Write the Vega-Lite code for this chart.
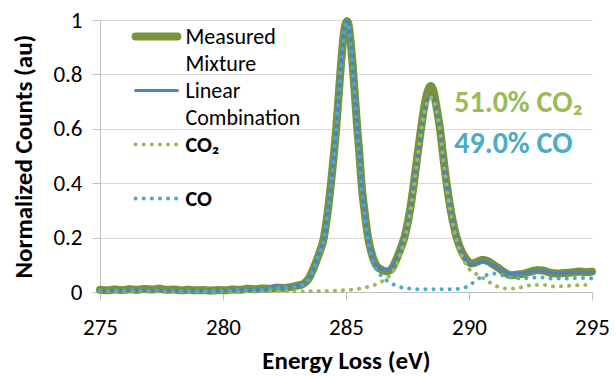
{
  "$schema": "https://vega.github.io/schema/vega-lite/v6.json",
  "width": 492,
  "height": 272,
  "autosize": {"type": "none"},
  "padding": {"left": 100, "top": 20, "right": 24, "bottom": 85},
  "background": "white",
  "config": {
    "font": "Carlito, Lato, sans-serif",
    "view": {"stroke": null},
    "axis": {
      "labelFont": "Carlito, Lato, sans-serif",
      "titleFont": "Carlito, Lato, sans-serif",
      "labelColor": "#000000",
      "titleColor": "#000000",
      "labelFontSize": 23,
      "titleFontSize": 25,
      "titleFontWeight": "bold",
      "domainColor": "#BFBFBF",
      "tickColor": "#BFBFBF",
      "gridColor": "#D9D9D9",
      "tickSize": 8,
      "labelFlush": false
    }
  },
  "datasets": {
    "spectra": [
      {"series": "Measured Mixture", "energy": 275.0, "counts": 0.008},
      {"series": "Measured Mixture", "energy": 275.3, "counts": 0.006},
      {"series": "Measured Mixture", "energy": 275.6, "counts": 0.009},
      {"series": "Measured Mixture", "energy": 275.9, "counts": 0.007},
      {"series": "Measured Mixture", "energy": 276.2, "counts": 0.010},
      {"series": "Measured Mixture", "energy": 276.5, "counts": 0.008},
      {"series": "Measured Mixture", "energy": 276.8, "counts": 0.011},
      {"series": "Measured Mixture", "energy": 277.1, "counts": 0.009},
      {"series": "Measured Mixture", "energy": 277.4, "counts": 0.012},
      {"series": "Measured Mixture", "energy": 277.7, "counts": 0.008},
      {"series": "Measured Mixture", "energy": 278.0, "counts": 0.009},
      {"series": "Measured Mixture", "energy": 278.3, "counts": 0.006},
      {"series": "Measured Mixture", "energy": 278.6, "counts": 0.008},
      {"series": "Measured Mixture", "energy": 278.9, "counts": 0.006},
      {"series": "Measured Mixture", "energy": 279.2, "counts": 0.007},
      {"series": "Measured Mixture", "energy": 279.5, "counts": 0.005},
      {"series": "Measured Mixture", "energy": 279.8, "counts": 0.007},
      {"series": "Measured Mixture", "energy": 280.1, "counts": 0.006},
      {"series": "Measured Mixture", "energy": 280.4, "counts": 0.009},
      {"series": "Measured Mixture", "energy": 280.7, "counts": 0.008},
      {"series": "Measured Mixture", "energy": 281.0, "counts": 0.012},
      {"series": "Measured Mixture", "energy": 281.3, "counts": 0.010},
      {"series": "Measured Mixture", "energy": 281.6, "counts": 0.013},
      {"series": "Measured Mixture", "energy": 281.9, "counts": 0.012},
      {"series": "Measured Mixture", "energy": 282.2, "counts": 0.016},
      {"series": "Measured Mixture", "energy": 282.5, "counts": 0.015},
      {"series": "Measured Mixture", "energy": 282.8, "counts": 0.019},
      {"series": "Measured Mixture", "energy": 283.0, "counts": 0.023},
      {"series": "Measured Mixture", "energy": 283.26, "counts": 0.03},
      {"series": "Measured Mixture", "energy": 283.5, "counts": 0.052},
      {"series": "Measured Mixture", "energy": 283.67, "counts": 0.085},
      {"series": "Measured Mixture", "energy": 283.9, "counts": 0.14},
      {"series": "Measured Mixture", "energy": 284.1, "counts": 0.2},
      {"series": "Measured Mixture", "energy": 284.25, "counts": 0.29},
      {"series": "Measured Mixture", "energy": 284.39, "counts": 0.4},
      {"series": "Measured Mixture", "energy": 284.5, "counts": 0.5},
      {"series": "Measured Mixture", "energy": 284.6, "counts": 0.6},
      {"series": "Measured Mixture", "energy": 284.7, "counts": 0.72},
      {"series": "Measured Mixture", "energy": 284.8, "counts": 0.84},
      {"series": "Measured Mixture", "energy": 284.9, "counts": 0.94},
      {"series": "Measured Mixture", "energy": 284.98, "counts": 0.985},
      {"series": "Measured Mixture", "energy": 285.05, "counts": 0.995},
      {"series": "Measured Mixture", "energy": 285.12, "counts": 0.975},
      {"series": "Measured Mixture", "energy": 285.2, "counts": 0.91},
      {"series": "Measured Mixture", "energy": 285.3, "counts": 0.8},
      {"series": "Measured Mixture", "energy": 285.46, "counts": 0.6},
      {"series": "Measured Mixture", "energy": 285.55, "counts": 0.5},
      {"series": "Measured Mixture", "energy": 285.63, "counts": 0.4},
      {"series": "Measured Mixture", "energy": 285.75, "counts": 0.3},
      {"series": "Measured Mixture", "energy": 285.9, "counts": 0.2},
      {"series": "Measured Mixture", "energy": 286.05, "counts": 0.14},
      {"series": "Measured Mixture", "energy": 286.22, "counts": 0.1},
      {"series": "Measured Mixture", "energy": 286.45, "counts": 0.082},
      {"series": "Measured Mixture", "energy": 286.65, "counts": 0.076},
      {"series": "Measured Mixture", "energy": 286.85, "counts": 0.085},
      {"series": "Measured Mixture", "energy": 287.0, "counts": 0.11},
      {"series": "Measured Mixture", "energy": 287.2, "counts": 0.155},
      {"series": "Measured Mixture", "energy": 287.4, "counts": 0.21},
      {"series": "Measured Mixture", "energy": 287.6, "counts": 0.3},
      {"series": "Measured Mixture", "energy": 287.76, "counts": 0.4},
      {"series": "Measured Mixture", "energy": 287.9, "counts": 0.5},
      {"series": "Measured Mixture", "energy": 288.05, "counts": 0.6},
      {"series": "Measured Mixture", "energy": 288.2, "counts": 0.69},
      {"series": "Measured Mixture", "energy": 288.33, "counts": 0.74},
      {"series": "Measured Mixture", "energy": 288.44, "counts": 0.757},
      {"series": "Measured Mixture", "energy": 288.55, "counts": 0.74},
      {"series": "Measured Mixture", "energy": 288.68, "counts": 0.68},
      {"series": "Measured Mixture", "energy": 288.82, "counts": 0.6},
      {"series": "Measured Mixture", "energy": 288.95, "counts": 0.5},
      {"series": "Measured Mixture", "energy": 289.09, "counts": 0.4},
      {"series": "Measured Mixture", "energy": 289.3, "counts": 0.28},
      {"series": "Measured Mixture", "energy": 289.5, "counts": 0.2},
      {"series": "Measured Mixture", "energy": 289.7, "counts": 0.15},
      {"series": "Measured Mixture", "energy": 289.9, "counts": 0.12},
      {"series": "Measured Mixture", "energy": 290.1, "counts": 0.105},
      {"series": "Measured Mixture", "energy": 290.3, "counts": 0.11},
      {"series": "Measured Mixture", "energy": 290.55, "counts": 0.118},
      {"series": "Measured Mixture", "energy": 290.8, "counts": 0.112},
      {"series": "Measured Mixture", "energy": 291.0, "counts": 0.1},
      {"series": "Measured Mixture", "energy": 291.2, "counts": 0.088},
      {"series": "Measured Mixture", "energy": 291.45, "counts": 0.072},
      {"series": "Measured Mixture", "energy": 291.7, "counts": 0.062},
      {"series": "Measured Mixture", "energy": 291.95, "counts": 0.064},
      {"series": "Measured Mixture", "energy": 292.2, "counts": 0.067},
      {"series": "Measured Mixture", "energy": 292.5, "counts": 0.075},
      {"series": "Measured Mixture", "energy": 292.8, "counts": 0.08},
      {"series": "Measured Mixture", "energy": 293.05, "counts": 0.078},
      {"series": "Measured Mixture", "energy": 293.3, "counts": 0.071},
      {"series": "Measured Mixture", "energy": 293.6, "counts": 0.068},
      {"series": "Measured Mixture", "energy": 293.9, "counts": 0.07},
      {"series": "Measured Mixture", "energy": 294.2, "counts": 0.072},
      {"series": "Measured Mixture", "energy": 294.5, "counts": 0.075},
      {"series": "Measured Mixture", "energy": 294.75, "counts": 0.073},
      {"series": "Measured Mixture", "energy": 295.0, "counts": 0.075},

      {"series": "Linear Combination", "energy": 275.0, "counts": 0.006},
      {"series": "Linear Combination", "energy": 275.5, "counts": 0.005},
      {"series": "Linear Combination", "energy": 276.0, "counts": 0.006},
      {"series": "Linear Combination", "energy": 276.5, "counts": 0.007},
      {"series": "Linear Combination", "energy": 277.0, "counts": 0.006},
      {"series": "Linear Combination", "energy": 277.5, "counts": 0.005},
      {"series": "Linear Combination", "energy": 278.0, "counts": 0.006},
      {"series": "Linear Combination", "energy": 278.5, "counts": 0.005},
      {"series": "Linear Combination", "energy": 279.0, "counts": 0.005},
      {"series": "Linear Combination", "energy": 279.5, "counts": 0.004},
      {"series": "Linear Combination", "energy": 280.0, "counts": 0.006},
      {"series": "Linear Combination", "energy": 280.5, "counts": 0.007},
      {"series": "Linear Combination", "energy": 281.0, "counts": 0.008},
      {"series": "Linear Combination", "energy": 281.5, "counts": 0.010},
      {"series": "Linear Combination", "energy": 281.8, "counts": 0.012},
      {"series": "Linear Combination", "energy": 282.0, "counts": 0.018},
      {"series": "Linear Combination", "energy": 282.2, "counts": 0.025},
      {"series": "Linear Combination", "energy": 282.4, "counts": 0.016},
      {"series": "Linear Combination", "energy": 282.6, "counts": 0.019},
      {"series": "Linear Combination", "energy": 282.8, "counts": 0.021},
      {"series": "Linear Combination", "energy": 283.0, "counts": 0.024},
      {"series": "Linear Combination", "energy": 283.26, "counts": 0.03},
      {"series": "Linear Combination", "energy": 283.5, "counts": 0.051},
      {"series": "Linear Combination", "energy": 283.67, "counts": 0.085},
      {"series": "Linear Combination", "energy": 283.9, "counts": 0.14},
      {"series": "Linear Combination", "energy": 284.1, "counts": 0.2},
      {"series": "Linear Combination", "energy": 284.25, "counts": 0.29},
      {"series": "Linear Combination", "energy": 284.39, "counts": 0.4},
      {"series": "Linear Combination", "energy": 284.5, "counts": 0.5},
      {"series": "Linear Combination", "energy": 284.6, "counts": 0.6},
      {"series": "Linear Combination", "energy": 284.7, "counts": 0.72},
      {"series": "Linear Combination", "energy": 284.8, "counts": 0.84},
      {"series": "Linear Combination", "energy": 284.9, "counts": 0.94},
      {"series": "Linear Combination", "energy": 284.98, "counts": 0.985},
      {"series": "Linear Combination", "energy": 285.05, "counts": 0.995},
      {"series": "Linear Combination", "energy": 285.12, "counts": 0.975},
      {"series": "Linear Combination", "energy": 285.2, "counts": 0.91},
      {"series": "Linear Combination", "energy": 285.3, "counts": 0.8},
      {"series": "Linear Combination", "energy": 285.46, "counts": 0.6},
      {"series": "Linear Combination", "energy": 285.55, "counts": 0.5},
      {"series": "Linear Combination", "energy": 285.63, "counts": 0.4},
      {"series": "Linear Combination", "energy": 285.75, "counts": 0.3},
      {"series": "Linear Combination", "energy": 285.9, "counts": 0.2},
      {"series": "Linear Combination", "energy": 286.05, "counts": 0.14},
      {"series": "Linear Combination", "energy": 286.22, "counts": 0.1},
      {"series": "Linear Combination", "energy": 286.45, "counts": 0.084},
      {"series": "Linear Combination", "energy": 286.65, "counts": 0.08},
      {"series": "Linear Combination", "energy": 286.85, "counts": 0.088},
      {"series": "Linear Combination", "energy": 287.0, "counts": 0.11},
      {"series": "Linear Combination", "energy": 287.2, "counts": 0.155},
      {"series": "Linear Combination", "energy": 287.4, "counts": 0.21},
      {"series": "Linear Combination", "energy": 287.6, "counts": 0.3},
      {"series": "Linear Combination", "energy": 287.76, "counts": 0.4},
      {"series": "Linear Combination", "energy": 287.9, "counts": 0.49},
      {"series": "Linear Combination", "energy": 288.05, "counts": 0.59},
      {"series": "Linear Combination", "energy": 288.2, "counts": 0.665},
      {"series": "Linear Combination", "energy": 288.35, "counts": 0.71},
      {"series": "Linear Combination", "energy": 288.48, "counts": 0.72},
      {"series": "Linear Combination", "energy": 288.6, "counts": 0.7},
      {"series": "Linear Combination", "energy": 288.72, "counts": 0.65},
      {"series": "Linear Combination", "energy": 288.82, "counts": 0.6},
      {"series": "Linear Combination", "energy": 288.95, "counts": 0.5},
      {"series": "Linear Combination", "energy": 289.09, "counts": 0.4},
      {"series": "Linear Combination", "energy": 289.3, "counts": 0.28},
      {"series": "Linear Combination", "energy": 289.5, "counts": 0.2},
      {"series": "Linear Combination", "energy": 289.7, "counts": 0.15},
      {"series": "Linear Combination", "energy": 289.9, "counts": 0.115},
      {"series": "Linear Combination", "energy": 290.1, "counts": 0.1},
      {"series": "Linear Combination", "energy": 290.3, "counts": 0.105},
      {"series": "Linear Combination", "energy": 290.55, "counts": 0.112},
      {"series": "Linear Combination", "energy": 290.8, "counts": 0.108},
      {"series": "Linear Combination", "energy": 291.0, "counts": 0.098},
      {"series": "Linear Combination", "energy": 291.2, "counts": 0.087},
      {"series": "Linear Combination", "energy": 291.45, "counts": 0.075},
      {"series": "Linear Combination", "energy": 291.7, "counts": 0.068},
      {"series": "Linear Combination", "energy": 291.95, "counts": 0.068},
      {"series": "Linear Combination", "energy": 292.2, "counts": 0.07},
      {"series": "Linear Combination", "energy": 292.5, "counts": 0.074},
      {"series": "Linear Combination", "energy": 292.8, "counts": 0.077},
      {"series": "Linear Combination", "energy": 293.05, "counts": 0.076},
      {"series": "Linear Combination", "energy": 293.3, "counts": 0.072},
      {"series": "Linear Combination", "energy": 293.6, "counts": 0.07},
      {"series": "Linear Combination", "energy": 293.9, "counts": 0.07},
      {"series": "Linear Combination", "energy": 294.2, "counts": 0.072},
      {"series": "Linear Combination", "energy": 294.5, "counts": 0.073},
      {"series": "Linear Combination", "energy": 294.75, "counts": 0.072},
      {"series": "Linear Combination", "energy": 295.0, "counts": 0.073},

      {"series": "CO₂", "energy": 275.0, "counts": 0.003},
      {"series": "CO₂", "energy": 276.0, "counts": 0.002},
      {"series": "CO₂", "energy": 277.0, "counts": 0.003},
      {"series": "CO₂", "energy": 278.0, "counts": 0.002},
      {"series": "CO₂", "energy": 279.0, "counts": 0.002},
      {"series": "CO₂", "energy": 280.0, "counts": 0.002},
      {"series": "CO₂", "energy": 281.0, "counts": 0.002},
      {"series": "CO₂", "energy": 282.0, "counts": 0.003},
      {"series": "CO₂", "energy": 283.0, "counts": 0.003},
      {"series": "CO₂", "energy": 283.8, "counts": 0.003},
      {"series": "CO₂", "energy": 284.55, "counts": 0.005},
      {"series": "CO₂", "energy": 284.96, "counts": 0.007},
      {"series": "CO₂", "energy": 285.37, "counts": 0.01},
      {"series": "CO₂", "energy": 285.75, "counts": 0.016},
      {"series": "CO₂", "energy": 286.1, "counts": 0.024},
      {"series": "CO₂", "energy": 286.4, "counts": 0.036},
      {"series": "CO₂", "energy": 286.7, "counts": 0.054},
      {"series": "CO₂", "energy": 286.9, "counts": 0.075},
      {"series": "CO₂", "energy": 287.05, "counts": 0.097},
      {"series": "CO₂", "energy": 287.2, "counts": 0.14},
      {"series": "CO₂", "energy": 287.4, "counts": 0.2},
      {"series": "CO₂", "energy": 287.6, "counts": 0.29},
      {"series": "CO₂", "energy": 287.76, "counts": 0.39},
      {"series": "CO₂", "energy": 287.9, "counts": 0.49},
      {"series": "CO₂", "energy": 288.05, "counts": 0.59},
      {"series": "CO₂", "energy": 288.2, "counts": 0.665},
      {"series": "CO₂", "energy": 288.35, "counts": 0.705},
      {"series": "CO₂", "energy": 288.48, "counts": 0.715},
      {"series": "CO₂", "energy": 288.6, "counts": 0.695},
      {"series": "CO₂", "energy": 288.72, "counts": 0.645},
      {"series": "CO₂", "energy": 288.82, "counts": 0.595},
      {"series": "CO₂", "energy": 288.95, "counts": 0.49},
      {"series": "CO₂", "energy": 289.09, "counts": 0.39},
      {"series": "CO₂", "energy": 289.3, "counts": 0.27},
      {"series": "CO₂", "energy": 289.5, "counts": 0.19},
      {"series": "CO₂", "energy": 289.7, "counts": 0.135},
      {"series": "CO₂", "energy": 289.9, "counts": 0.098},
      {"series": "CO₂", "energy": 290.1, "counts": 0.075},
      {"series": "CO₂", "energy": 290.38, "counts": 0.063},
      {"series": "CO₂", "energy": 290.7, "counts": 0.044},
      {"series": "CO₂", "energy": 291.1, "counts": 0.022},
      {"series": "CO₂", "energy": 291.5, "counts": 0.013},
      {"series": "CO₂", "energy": 291.9, "counts": 0.013},
      {"series": "CO₂", "energy": 292.3, "counts": 0.022},
      {"series": "CO₂", "energy": 292.7, "counts": 0.026},
      {"series": "CO₂", "energy": 293.1, "counts": 0.026},
      {"series": "CO₂", "energy": 293.5, "counts": 0.02},
      {"series": "CO₂", "energy": 293.9, "counts": 0.022},
      {"series": "CO₂", "energy": 294.3, "counts": 0.024},
      {"series": "CO₂", "energy": 294.7, "counts": 0.026},
      {"series": "CO₂", "energy": 295.0, "counts": 0.025},

      {"series": "CO", "energy": 275.0, "counts": 0.005},
      {"series": "CO", "energy": 275.5, "counts": 0.005},
      {"series": "CO", "energy": 276.0, "counts": 0.006},
      {"series": "CO", "energy": 276.5, "counts": 0.006},
      {"series": "CO", "energy": 277.0, "counts": 0.005},
      {"series": "CO", "energy": 277.5, "counts": 0.005},
      {"series": "CO", "energy": 278.0, "counts": 0.005},
      {"series": "CO", "energy": 278.5, "counts": 0.004},
      {"series": "CO", "energy": 279.0, "counts": 0.004},
      {"series": "CO", "energy": 279.5, "counts": 0.004},
      {"series": "CO", "energy": 280.0, "counts": 0.005},
      {"series": "CO", "energy": 280.5, "counts": 0.006},
      {"series": "CO", "energy": 281.0, "counts": 0.007},
      {"series": "CO", "energy": 281.5, "counts": 0.008},
      {"series": "CO", "energy": 282.0, "counts": 0.012},
      {"series": "CO", "energy": 282.5, "counts": 0.016},
      {"series": "CO", "energy": 283.0, "counts": 0.02},
      {"series": "CO", "energy": 283.26, "counts": 0.027},
      {"series": "CO", "energy": 283.5, "counts": 0.048},
      {"series": "CO", "energy": 283.67, "counts": 0.082},
      {"series": "CO", "energy": 283.9, "counts": 0.137},
      {"series": "CO", "energy": 284.1, "counts": 0.196},
      {"series": "CO", "energy": 284.25, "counts": 0.286},
      {"series": "CO", "energy": 284.39, "counts": 0.395},
      {"series": "CO", "energy": 284.5, "counts": 0.495},
      {"series": "CO", "energy": 284.6, "counts": 0.595},
      {"series": "CO", "energy": 284.7, "counts": 0.715},
      {"series": "CO", "energy": 284.8, "counts": 0.835},
      {"series": "CO", "energy": 284.9, "counts": 0.935},
      {"series": "CO", "energy": 284.98, "counts": 0.98},
      {"series": "CO", "energy": 285.05, "counts": 0.99},
      {"series": "CO", "energy": 285.12, "counts": 0.97},
      {"series": "CO", "energy": 285.2, "counts": 0.9},
      {"series": "CO", "energy": 285.3, "counts": 0.79},
      {"series": "CO", "energy": 285.46, "counts": 0.59},
      {"series": "CO", "energy": 285.55, "counts": 0.49},
      {"series": "CO", "energy": 285.63, "counts": 0.39},
      {"series": "CO", "energy": 285.75, "counts": 0.29},
      {"series": "CO", "energy": 285.9, "counts": 0.185},
      {"series": "CO", "energy": 286.05, "counts": 0.125},
      {"series": "CO", "energy": 286.22, "counts": 0.085},
      {"series": "CO", "energy": 286.45, "counts": 0.058},
      {"series": "CO", "energy": 286.76, "counts": 0.036},
      {"series": "CO", "energy": 287.0, "counts": 0.025},
      {"series": "CO", "energy": 287.2, "counts": 0.018},
      {"series": "CO", "energy": 287.53, "counts": 0.013},
      {"series": "CO", "energy": 288.0, "counts": 0.01},
      {"series": "CO", "energy": 288.5, "counts": 0.01},
      {"series": "CO", "energy": 288.9, "counts": 0.01},
      {"series": "CO", "energy": 289.3, "counts": 0.01},
      {"series": "CO", "energy": 289.7, "counts": 0.013},
      {"series": "CO", "energy": 290.04, "counts": 0.026},
      {"series": "CO", "energy": 290.34, "counts": 0.047},
      {"series": "CO", "energy": 290.65, "counts": 0.06},
      {"series": "CO", "energy": 290.95, "counts": 0.068},
      {"series": "CO", "energy": 291.3, "counts": 0.063},
      {"series": "CO", "energy": 291.7, "counts": 0.054},
      {"series": "CO", "energy": 292.1, "counts": 0.05},
      {"series": "CO", "energy": 292.5, "counts": 0.052},
      {"series": "CO", "energy": 292.9, "counts": 0.054},
      {"series": "CO", "energy": 293.3, "counts": 0.05},
      {"series": "CO", "energy": 293.7, "counts": 0.05},
      {"series": "CO", "energy": 294.1, "counts": 0.05},
      {"series": "CO", "energy": 294.5, "counts": 0.052},
      {"series": "CO", "energy": 295.0, "counts": 0.05}
    ]
  },
  "layer": [
    {
      "data": {"name": "spectra"},
      "transform": [{"filter": "datum.series === 'Measured Mixture'"}],
      "mark": {"type": "line", "interpolate": "monotone", "strokeWidth": 8, "strokeCap": "round", "strokeJoin": "round"},
      "encoding": {
        "x": {
          "field": "energy",
          "type": "quantitative",
          "title": "Energy Loss (eV)",
          "scale": {"domain": [275, 295], "nice": false, "zero": false},
          "axis": {
            "values": [275, 280, 285, 290, 295],
            "grid": false,
            "labelPadding": 16,
            "titlePadding": 9
          }
        },
        "y": {
          "field": "counts",
          "type": "quantitative",
          "title": "Normalized Counts (au)",
          "scale": {"domain": [0, 1], "nice": false},
          "axis": {
            "values": [0, 0.2, 0.4, 0.6, 0.8, 1],
            "format": "~g",
            "grid": true,
            "labelPadding": 10,
            "titlePadding": 16
          }
        },
        "color": {"field": "series", "type": "nominal", "title": null,
          "scale": {"domain": ["Measured Mixture", "Linear Combination", "CO₂", "CO"], "range": ["#77933C", "#4F81BD", "#9BBB59", "#4BACC6"]},
          "legend": {
            "orient": "none",
            "legendX": 45.5,
            "legendY": 5.5,
            "padding": 0,
            "symbolSize": 729,
            "symbolType": "M-1.55,0H1.55",
            "labelFont": "Carlito, Lato, sans-serif",
            "labelFontSize": 22,
            "labelColor": "#000000",
            "labelOffset": 18,
            "labelLimit": 200,
            "labelBaseline": "middle",
            "rowPadding": 5,
            "labelExpr": "datum.label === 'Measured Mixture' ? ['Measured', 'Mixture'] : datum.label === 'Linear Combination' ? ['Linear', 'Combination'] : [datum.label, ' ']",
            "encode": {
              "symbols": {"update": {
                "strokeCap": {"value": "round"},
                "fillOpacity": {"value": 0},
                "strokeWidth": {"signal": "datum.value === 'Measured Mixture' ? 8 : datum.value === 'Linear Combination' ? 3 : 4"}
              }},
              "labels": {"update": {
                "fontWeight": {"signal": "datum.label === 'CO₂' || datum.label === 'CO' ? 'bold' : 'normal'"},
                "lineHeight": {"value": 27}
              }}
            }
          }
        },
        "strokeDash": {"field": "series", "type": "nominal", "title": null,
          "scale": {"domain": ["Measured Mixture", "Linear Combination", "CO₂", "CO"], "range": [[1, 0], [1, 0], [0.1, 8], [0.1, 8]]}}
      }
    },
    {
      "data": {"name": "spectra"},
      "transform": [{"filter": "datum.series === 'Linear Combination'"}],
      "mark": {"type": "line", "interpolate": "monotone", "strokeWidth": 3, "strokeCap": "round", "strokeJoin": "round"},
      "encoding": {
        "x": {"field": "energy", "type": "quantitative"},
        "y": {"field": "counts", "type": "quantitative"},
        "color": {"field": "series", "type": "nominal"},
        "strokeDash": {"field": "series", "type": "nominal"}
      }
    },
    {
      "data": {"name": "spectra"},
      "transform": [{"filter": "datum.series === 'CO₂'"}],
      "mark": {"type": "line", "interpolate": "monotone", "strokeWidth": 4, "strokeCap": "round"},
      "encoding": {
        "x": {"field": "energy", "type": "quantitative"},
        "y": {"field": "counts", "type": "quantitative"},
        "color": {"field": "series", "type": "nominal"},
        "strokeDash": {"field": "series", "type": "nominal"}
      }
    },
    {
      "data": {"name": "spectra"},
      "transform": [{"filter": "datum.series === 'CO'"}],
      "mark": {"type": "line", "interpolate": "monotone", "strokeWidth": 4, "strokeCap": "round"},
      "encoding": {
        "x": {"field": "energy", "type": "quantitative"},
        "y": {"field": "counts", "type": "quantitative"},
        "color": {"field": "series", "type": "nominal"},
        "strokeDash": {"field": "series", "type": "nominal"}
      }
    },
    {
      "data": {"values": [{"label": "51.0% CO₂"}]},
      "mark": {"type": "text", "align": "left", "baseline": "alphabetic", "font": "Carlito, Lato, sans-serif", "fontSize": 30, "fontWeight": "bold", "fill": "#9BBB59"},
      "encoding": {
        "x": {"datum": 289.4, "type": "quantitative"},
        "y": {"datum": 0.662, "type": "quantitative"},
        "text": {"field": "label", "type": "nominal"}
      }
    },
    {
      "data": {"values": [{"label": "49.0% CO"}]},
      "mark": {"type": "text", "align": "left", "baseline": "alphabetic", "font": "Carlito, Lato, sans-serif", "fontSize": 30, "fontWeight": "bold", "fill": "#4BACC6"},
      "encoding": {
        "x": {"datum": 289.4, "type": "quantitative"},
        "y": {"datum": 0.511, "type": "quantitative"},
        "text": {"field": "label", "type": "nominal"}
      }
    }
  ]
}
